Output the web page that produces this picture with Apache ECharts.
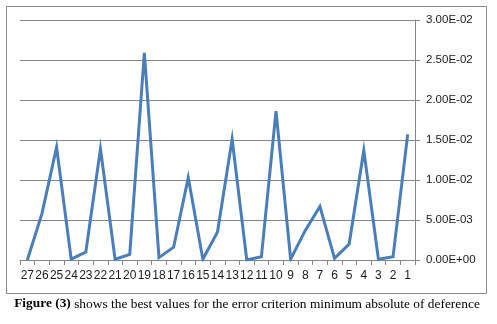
<!DOCTYPE html>
<html>
<head>
<meta charset="utf-8">
<script src="https://cdn.jsdelivr.net/npm/echarts@6/dist/echarts.min.js"></script>
<style>
  html, body { margin: 0; padding: 0; background: #ffffff; }
  #chart { width: 497px; height: 324px; }
</style>
</head>
<body>
<div id="chart"></div>
<script>
// Iteration numbers, shown in descending order along the x axis
const categories = ['27','26','25','24','23','22','21','20','19','18','17','16','15','14',
                    '13','12','11','10','9','8','7','6','5','4','3','2','1'];

// Best error-criterion value (minimum absolute deviation) for each iteration
const errorValues = [0.0000, 0.0058, 0.0141, 0.0001, 0.0010, 0.0139, 0.0001, 0.0007,
                     0.0259, 0.0003, 0.0016, 0.0103, 0.0001, 0.0035, 0.0151, 0.0000,
                     0.0004, 0.0186, 0.0001, 0.0037, 0.0067, 0.0002, 0.0020, 0.0137,
                     0.0001, 0.0004, 0.0157];

// Value axis range and step
const yMin = 0;
const yMax = 0.03;
const yStep = 0.005;

// Scientific notation in the style "2.50E-02"
function sci(v) {
  if (v === 0) return '0.00E+00';
  const parts = v.toExponential(2).split('e');
  const exp = parseInt(parts[1], 10);
  const sign = exp < 0 ? '-' : '+';
  const mag = String(Math.abs(exp)).padStart(2, '0');
  return parts[0] + 'E' + sign + mag;
}

const chart = echarts.init(document.getElementById('chart'), null, { renderer: 'canvas' });

chart.setOption({
  backgroundColor: '#ffffff',
  animation: false,
  grid: { left: 20, right: 82, top: 20, bottom: 64 },
  xAxis: {
    type: 'category',
    data: categories,
    boundaryGap: true,
    axisLine: { show: true, lineStyle: { color: '#868686', width: 1 } },
    axisTick: { show: true, length: 5, alignWithLabel: false, interval: 0,
                lineStyle: { color: '#868686' } },
    axisLabel: { interval: 0, margin: 10, color: '#1a1a1a',
                 fontFamily: 'Liberation Sans', fontSize: 12 },
    splitLine: { show: false }
  },
  yAxis: {
    type: 'value',
    position: 'right',
    min: yMin,
    max: yMax,
    interval: yStep,
    axisLine: { show: true, lineStyle: { color: '#868686', width: 1 } },
    axisTick: { show: true, length: 5, lineStyle: { color: '#868686' } },
    axisLabel: { margin: 11, color: '#1a1a1a', formatter: sci,
                 fontFamily: 'Liberation Sans', fontSize: 11.5 },
    splitLine: { show: true, lineStyle: { color: '#868686', width: 1 } }
  },
  series: [{
    type: 'line',
    data: errorValues,
    symbol: 'none',
    lineStyle: { color: '#4a7ebb', width: 3, join: 'miter' },
    z: 5
  }],
  graphic: [
    {
      type: 'rect',
      shape: { x: 6.5, y: 6.5, width: 480, height: 287 },
      style: { fill: null, stroke: '#878787', lineWidth: 1 },
      silent: true
    },
    {
      type: 'text',
      x: 247,
      y: 304,
      style: {
        text: '{b|Figure (3)} shows the best values for the error criterion minimum absolute of deference',
        align: 'center',
        verticalAlign: 'middle',
        fontFamily: 'Liberation Serif',
        fontSize: 13.4,
        fill: '#000000',
        rich: {
          b: { fontFamily: 'Liberation Serif', fontSize: 13.4, fontWeight: 'bold', fill: '#000000' }
        }
      }
    }
  ]
});
</script>
</body>
</html>
